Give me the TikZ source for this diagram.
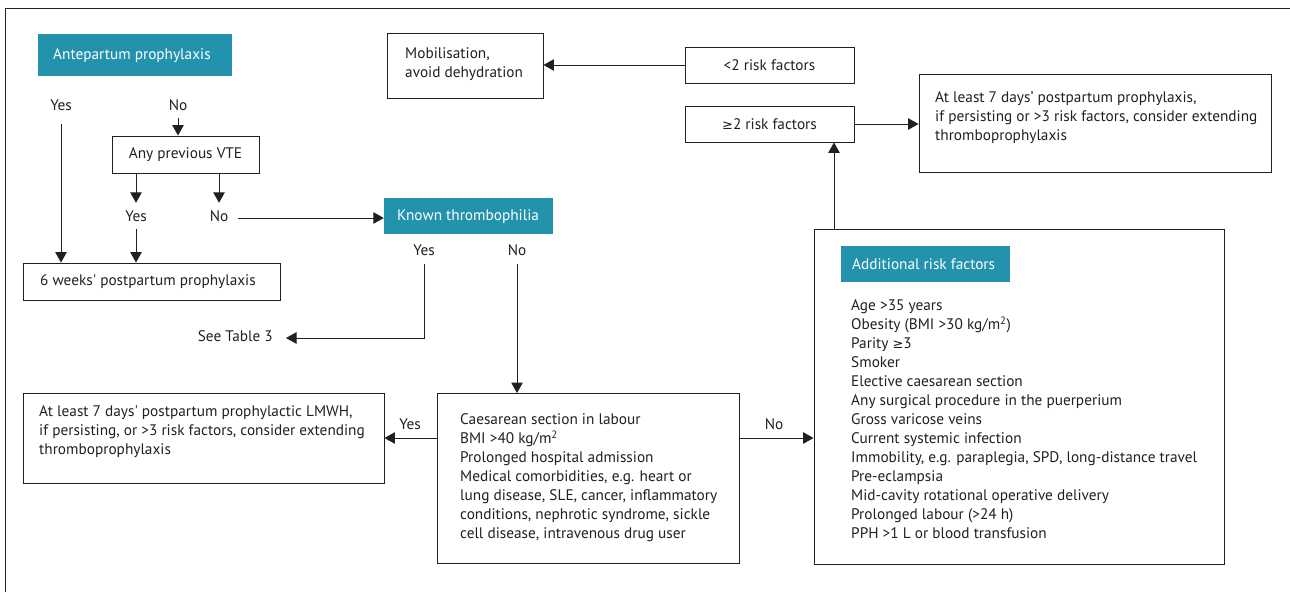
\documentclass[tikz,border=0pt]{standalone}
\usepackage{fontspec}
\setmainfont{PT Sans}
\newfontfamily\symf{DejaVu Sans}
\usetikzlibrary{arrows.meta}
\definecolor{tealc}{RGB}{34,146,173}
\definecolor{ink}{RGB}{35,31,32}
\newcommand{\gesym}{{\symf\fontsize{13}{19}\selectfont ≥}}
\begin{document}
\begin{tikzpicture}[x=1pt,y=-1pt,
  every node/.style={font=\fontsize{15.3}{19}\selectfont, text=ink},
  box/.style={draw=ink, line width=0.9pt, inner sep=0pt, rectangle},
  head/.style={fill=tealc, inner sep=0pt, rectangle},
  htxt/.style={text=white, inner sep=0pt, anchor=west},
  txt/.style={inner sep=0pt, anchor=west, align=left},
  lbl/.style={inner sep=0pt, text height=10pt, text depth=3pt},
  ln/.style={draw=ink, line width=0.9pt},
  arr/.style={draw=ink, line width=0.9pt, -{Triangle[length=10.5pt,width=11.5pt]}}]
\useasboundingbox (0,0) rectangle (1290,592);
% frame
\draw[ln] (5,592) -- (5,8) -- (1290,8);

% boxes
\node[head, minimum width=194pt, minimum height=42pt] (ante) at (135,55) {};
\node[htxt] (antet) at (53,55.5) {Antepartum prophylaxis};
\node[box, minimum width=147pt, minimum height=37pt] (vte) at (185.5,154.5) {Any previous VTE};
\node[box, minimum width=257pt, minimum height=37pt] (sixw) at (151.5,281.5) {};
\node[txt] (sixwt) at (40,282) {6 weeks\textquotesingle\ postpartum prophylaxis};
\node[head, minimum width=169pt, minimum height=36pt] (known) at (468.5,216) {};
\node[htxt] (knownt) at (397,216.5) {Known thrombophilia};
\node[box, minimum width=156pt, minimum height=65pt] (mob) at (465,65.5) {};
\node[txt] (mobt) at (405,64) {Mobilisation,\\avoid dehydration};
\node[box, minimum width=169pt, minimum height=36pt] (lt2) at (769.5,65) {<2 risk factors};
\node[box, minimum width=169pt, minimum height=36pt] (ge2) at (769.5,124) {\gesym 2 risk factors};
\node[box, minimum width=352pt, minimum height=98pt] (rtop) at (1095,123) {};
\node[txt] (rtopt) at (935,118) {At least 7 days’ postpartum prophylaxis,\\if persisting or >3 risk factors, consider extending\\thromboprophylaxis};
\node[box, minimum width=361pt, minimum height=90pt] (left7) at (203.5,438) {};
\node[txt] (left7t) at (39,432) {At least 7 days\textquotesingle\ postpartum prophylactic LMWH,\\if persisting, or >3 risk factors, consider extending\\thromboprophylaxis};
\node[box, minimum width=302pt, minimum height=170pt] (mid) at (588,478.5) {};
\node[txt] (midt) at (460,478) {Caesarean section in labour\\BMI >40 kg/m\textsuperscript{2}\\Prolonged hospital admission\\Medical comorbidities, e.g. heart or\\lung disease, SLE, cancer, inflammatory\\conditions, nephrotic syndrome, sickle\\cell disease, intravenous drug user};
\node[box, minimum width=410pt, minimum height=335pt] (rbig) at (1019,396.5) {};
\node[head, minimum width=169pt, minimum height=36pt] (addh) at (925.5,264) {};
\node[htxt] (addht) at (852,264.5) {Additional risk factors};
\node[txt] (rbigt) at (851,419) {Age >35 years\\Obesity (BMI >30 kg/m\textsuperscript{2})\\Parity \gesym 3\\Smoker\\Elective caesarean section\\Any surgical procedure in the puerperium\\Gross varicose veins\\Current systemic infection\\Immobility, e.g. paraplegia, SPD, long-distance travel\\Pre-eclampsia\\Mid-cavity rotational operative delivery\\Prolonged labour (>24 h)\\PPH >1 L or blood transfusion};

% labels
\node[lbl] (yesA) at (61,107) {Yes};
\node[lbl] (noA) at (178,107) {No};
\node[lbl] (yesB) at (136,218) {Yes};
\node[lbl] (noB) at (219,218) {No};
\node[lbl] (yesC) at (424,252) {Yes};
\node[lbl] (noC) at (517,252) {No};
\node[lbl, anchor=east] (seeT) at (273,338) {See Table 3};
\node[lbl] (yesD) at (410,426) {Yes};
\node[lbl] (noD) at (774,426) {No};

% connectors
\draw[arr] ([yshift=-10.5pt]yesA.south) -- (yesA.south |- sixw.north);
\draw[arr] ([yshift=-4.5pt]noA.south) -- (noA.south |- vte.north);
\draw[arr] (yesB.north |- vte.south) -- ([yshift=8.5pt]yesB.north);
\draw[arr] (noB.north |- vte.south) -- ([yshift=8.5pt]noB.north);
\draw[arr] ([yshift=-4.5pt]yesB.south) -- (yesB.south |- sixw.north);
\draw[arr] ([xshift=10pt]noB.east) -- (noB.east -| known.west);
\draw[arr] ([yshift=-5.5pt]yesC.south) |- ([xshift=13pt]seeT.east);
\draw[arr] ([yshift=-5.5pt]noC.south) -- (noC.south |- mid.north);
\draw[arr] (mid.west |- left7.east) -- (left7.east);
\draw[arr] (mid.east |- left7.east) -- (rbig.west |- left7.east);
\draw[arr] (rbig.north -| 834,0) -- (ge2.south -| 834,0);
\draw[arr] (lt2.west) -- (lt2.west -| mob.east);
\draw[arr] (ge2.east) -- (ge2.east -| rtop.west);
\end{tikzpicture}
\end{document}
